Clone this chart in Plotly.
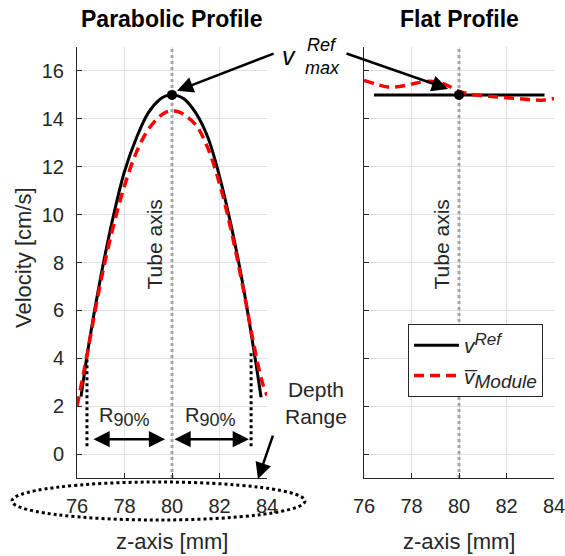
import plotly.graph_objects as go

W, H = 565, 556

# ---------------- data ----------------
z_ref_para = [76.17, 76.5, 77.0, 77.5, 78.0, 78.5, 79.0, 79.5, 79.75, 80.0, 80.25, 80.5, 81.0, 81.5, 82.0, 82.5, 83.0, 83.5, 83.75]
v_ref_para = [2.4, 4.6, 7.4, 9.8, 11.8, 13.2, 14.25, 14.82, 14.96, 15.0, 14.96, 14.84, 14.25, 13.25, 11.6, 9.5, 7.0, 4.0, 2.37]

z_mod_para = [76.0, 76.3, 76.6, 77.0, 77.5, 78.0, 78.5, 79.0, 79.5, 79.75, 80.0, 80.25, 80.5, 81.0, 81.5, 82.0, 82.5, 83.0, 83.5, 83.8, 84.0]
v_mod_para = [2.0, 3.5, 5.1, 7.2, 9.4, 11.2, 12.6, 13.55, 14.12, 14.28, 14.33, 14.3, 14.18, 13.75, 12.8, 11.3, 9.3, 6.9, 4.3, 3.0, 2.45]

z_ref_flat = [76.42, 83.6]
v_ref_flat = [15.0, 15.0]

z_mod_flat = [76.0, 76.5, 77.0, 77.5, 78.0, 78.5, 79.0, 79.5, 80.0, 80.5, 81.0, 81.5, 82.0, 82.5, 83.0, 83.5, 84.0]
v_mod_flat = [15.6, 15.45, 15.33, 15.35, 15.45, 15.55, 15.55, 15.4, 15.15, 15.03, 14.97, 14.92, 14.88, 14.84, 14.8, 14.78, 14.85]

peak_z = [80.0]
peak_v = [15.0]

tube_axis_z = [80.0, 80.0]
tube_axis_v = [-1.0, 17.0]

r90_left_z = [76.42, 76.42]
r90_left_v = [0.33, 3.96]
r90_right_z = [83.33, 83.33]
r90_right_v = [0.33, 4.25]

x_ticks = [76, 78, 80, 82, 84]
y_ticks = [0, 2, 4, 6, 8, 10, 12, 14, 16]
x_range = [76, 84]
y_range = [-1, 17]

# ---------------- helpers ----------------
def px(x):
    return x / W

def py(y):
    return 1 - y / H

FONT = "Liberation Sans, Arial, Helvetica, sans-serif"
DARK = "#262626"
GRID = "#dfdfdf"

fig = go.Figure()

for xa, ya in (("x", "y"), ("x2", "y2")):
    fig.add_trace(go.Scatter(x=tube_axis_z, y=tube_axis_v, mode="lines", xaxis=xa, yaxis=ya,
                             line=dict(color="#a6a6a6", width=3, dash="dot"), showlegend=False,
                             hoverinfo="skip"))

# parabolic
fig.add_trace(go.Scatter(x=z_ref_para, y=v_ref_para, mode="lines", xaxis="x", yaxis="y",
                         line=dict(color="black", width=3, shape="spline"),
                         name="<i>v</i><sup><i><span style='font-size:17px'>Ref</span></i></sup>",
                         showlegend=True))
fig.add_trace(go.Scatter(x=z_mod_para, y=v_mod_para, mode="lines", xaxis="x", yaxis="y",
                         line=dict(color="red", width=3.5, dash="10px,6px", shape="spline"),
                         name="<i>v\u0305</i><sub><i><span style='font-size:19px'>Module</span></i></sub>",
                         showlegend=True))
fig.add_trace(go.Scatter(x=r90_left_z, y=r90_left_v, mode="lines", xaxis="x", yaxis="y",
                         line=dict(color="black", width=3, dash="dot"), showlegend=False))
fig.add_trace(go.Scatter(x=r90_right_z, y=r90_right_v, mode="lines", xaxis="x", yaxis="y",
                         line=dict(color="black", width=3, dash="dot"), showlegend=False))
fig.add_trace(go.Scatter(x=peak_z, y=peak_v, mode="markers", xaxis="x", yaxis="y",
                         marker=dict(color="black", size=10), showlegend=False))

# flat
fig.add_trace(go.Scatter(x=z_ref_flat, y=v_ref_flat, mode="lines", xaxis="x2", yaxis="y2",
                         line=dict(color="black", width=3), showlegend=False))
fig.add_trace(go.Scatter(x=z_mod_flat, y=v_mod_flat, mode="lines", xaxis="x2", yaxis="y2",
                         line=dict(color="red", width=3.5, dash="10px,6px", shape="spline"),
                         showlegend=False))
fig.add_trace(go.Scatter(x=peak_z, y=peak_v, mode="markers", xaxis="x2", yaxis="y2",
                         marker=dict(color="black", size=10), showlegend=False))

ydom = [py(478), py(47)]
common_x = dict(range=x_range, tickvals=x_ticks, ticks="inside", ticklen=5, tickcolor=DARK,
                showline=True, linecolor=DARK, linewidth=1, showgrid=True, gridcolor=GRID,
                gridwidth=1, zeroline=False, tickfont=dict(family=FONT, size=20, color=DARK),
                ticklabelstandoff=10, automargin=False, ticklabeloverflow="allow")
common_y = dict(range=y_range, tickvals=y_ticks, ticks="inside", ticklen=5, tickcolor=DARK,
                showline=True, linecolor=DARK, linewidth=1, showgrid=True, gridcolor=GRID,
                gridwidth=1, zeroline=False, tickfont=dict(family=FONT, size=20, color=DARK),
                domain=ydom, automargin=False)

fig.update_layout(
    width=W, height=H, margin=dict(l=0, r=0, t=0, b=0, pad=0, autoexpand=False),
    paper_bgcolor="white", plot_bgcolor="white",
    font=dict(family=FONT, color=DARK),
    xaxis=dict(domain=[px(77), px(267)], anchor="y", **common_x),
    yaxis=dict(anchor="x", ticklabelstandoff=8, **common_y),
    xaxis2=dict(domain=[px(364), px(554)], anchor="y2", **common_x),
    yaxis2=dict(anchor="x2", showticklabels=False, **common_y),
    legend=dict(x=px(408), y=py(324), xanchor="left", yanchor="top",
                bordercolor=DARK, borderwidth=1, bgcolor="white", itemwidth=45,
                font=dict(family=FONT, size=21, color=DARK), tracegroupgap=0),
    showlegend=True,
)

def label(text, x, y, size, xref="paper", yref="paper", color=DARK, angle=0):
    return dict(text=text, x=x, y=y, xref=xref, yref=yref, showarrow=False,
                xanchor="center", yanchor="middle", textangle=angle,
                font=dict(family=FONT, size=size, color=color))

def arrow(x, y, ax, ay, xref, yref, side="end"):
    return dict(x=x, y=y, ax=ax, ay=ay, xref=xref, yref=yref, axref=xref, ayref=yref,
                text="", showarrow=True, arrowhead=2, arrowsize=1.3, arrowwidth=2.5,
                arrowside=side, arrowcolor="black")

ann = [
    label("<b>Parabolic Profile</b>", px(172), py(19), 23, color="black"),
    label("<b>Flat Profile</b>", px(459), py(19), 23, color="black"),
    label("Velocity [cm/s]", px(23), py(258), 22, angle=-90),
    label("z-axis [mm]", px(172), py(541), 22),
    label("z-axis [mm]", px(459), py(541), 22),
    label("Tube axis", 79.28, 8.75, 21, "x", "y", angle=-90),
    label("Tube axis", 79.28, 8.75, 21, "x2", "y2", angle=-90),
    label("<i>v</i>", px(289), py(56), 25, color="black"),
    label("<i>Ref</i>", px(322), py(45), 18, color="black"),
    label("<i>max</i>", px(322), py(68), 18, color="black"),
    arrow(80.21, 15.17, 84.34, 16.75, "x", "y"),
    arrow(79.54, 15.25, 75.2, 16.75, "x2", "y2"),
    arrow(79.71, 0.62, 76.63, 0.62, "x", "y", "end+start"),
    arrow(83.24, 0.62, 80.04, 0.62, "x", "y", "end+start"),
    label("R<sub><span style='font-size:18px'>90%</span></sub>", 77.98, 1.55, 20, "x", "y"),
    label("R<sub><span style='font-size:18px'>90%</span></sub>", 81.6, 1.55, 20, "x", "y"),
    label("Depth<br>Range", px(316), py(403), 21),
    arrow(83.62, -1.04, 84.27, 0.83, "x", "y"),
]
fig.update_layout(annotations=ann)

fig.add_shape(type="circle", xref="paper", yref="paper",
              x0=px(12), x1=px(305), y0=py(520), y1=py(482),
              line=dict(color="black", width=3, dash="dot"))

fig.write_html("out.html")
